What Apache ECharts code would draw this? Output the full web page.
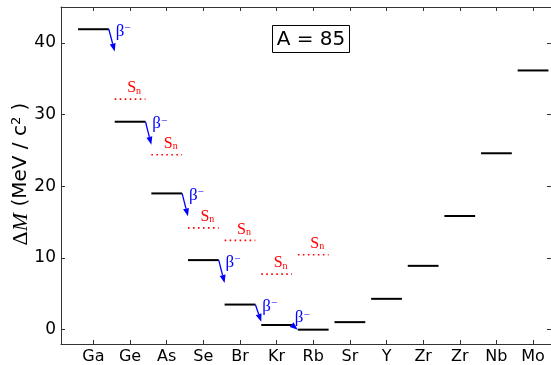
<!DOCTYPE html>
<html><head><meta charset="utf-8">
<script src="https://cdn.jsdelivr.net/npm/echarts@6/dist/echarts.min.js"></script>
<style>html,body{margin:0;padding:0;background:#fff}#c{width:551px;height:365px}</style>
</head><body><div id="c"></div>
<script>
// ---- data ----
const elements = ['Ga','Ge','As','Se','Br','Kr','Rb','Sr','Y','Zr','Zr','Nb','Mo'];
const massExcess = [41.9, 29.0, 19.0, 9.7, 3.5, 0.65, 0.0, 1.05, 4.3, 8.9, 15.85, 24.6, 36.15];
const snAt = ['Ge','As','Se','Br','Kr','Rb'];          // category where S_n level is drawn
const snValues = [32.15, 24.4, 14.2, 12.45, 7.75, 10.45];
const betaFrom = ['Ga','Ge','As','Se','Br','Kr'];       // decaying nucleus
const betaEnd = [38.8, 25.8, 15.8, 6.5, 1.1, 0.0];       // arrow tip values
const yTicks = [0, 10, 20, 30, 40];
const annotation = 'A = 85';

const HW = 0.42;
const catIdx = (name, k) => (k !== undefined ? k : elements.indexOf(name)) + 1;
const xVals = elements.map((_, i) => i + 1);

const chart = echarts.init(document.getElementById('c'), null, {renderer: 'canvas'});
const axisLine = {show: true, onZero: false, lineStyle: {color: '#333', width: 1}};
const serif = 'Liberation Serif';

const option = {
  animation: false,
  grid: {left: 61, right: -1, top: 7, bottom: 21, containLabel: false},
  xAxis: [{
    type: 'value', min: 0.114, max: 13.49, position: 'bottom',
    axisLine: axisLine, splitLine: {show: false},
    axisTick: {show: true, inside: true, length: 4, customValues: xVals, lineStyle: {color: '#333'}},
    axisLabel: {customValues: xVals, formatter: v => elements[Math.round(v) - 1] || '',
      fontFamily: 'DejaVu Sans', fontSize: 16, color: '#000', margin: 5}
  }, {
    type: 'value', min: 0.114, max: 13.49, position: 'top',
    axisLine: axisLine, splitLine: {show: false},
    axisTick: {show: true, inside: true, length: 4, customValues: xVals, lineStyle: {color: '#333'}},
    axisLabel: {show: false}
  }],
  yAxis: [{
    type: 'value', min: -2, max: 45, position: 'left',
    axisLine: axisLine, splitLine: {show: false},
    axisTick: {show: true, inside: true, length: 4, customValues: yTicks, lineStyle: {color: '#333'}},
    axisLabel: {customValues: yTicks, fontFamily: 'DejaVu Sans', fontSize: 17, color: '#000', margin: 5}
  }, {
    type: 'value', min: -2, max: 45, position: 'right',
    axisLine: axisLine, splitLine: {show: false},
    axisTick: {show: true, inside: true, length: 4, customValues: yTicks, lineStyle: {color: '#333'}},
    axisLabel: {show: false}
  }],
  graphic: [{
    type: 'text', x: 21, y: 174, rotation: Math.PI / 2, z: 10,
    style: {
      text: '{d|Δ}{m|M}{t| (MeV / c}{s|2}{t| )}',
      align: 'center', verticalAlign: 'middle',
      rich: {
        d: {fontFamily: 'Liberation Serif', fontSize: 22, fill: '#000'},
        m: {fontFamily: 'Liberation Serif', fontStyle: 'italic', fontSize: 22, fill: '#000'},
        t: {fontFamily: 'DejaVu Sans', fontSize: 20, fill: '#000'},
        s: {fontFamily: 'DejaVu Sans', fontSize: 13, fill: '#000', verticalAlign: 'top'}
      }
    }
  }],
  series: [
    {
      type: 'custom', name: 'levels', xAxisIndex: 0, yAxisIndex: 0, clip: false,
      data: elements.map((e, i) => [catIdx(e, i), massExcess[i]]),
      renderItem: (params, api) => {
        const x = api.value(0), y = api.value(1);
        const a = api.coord([x - HW, y]), b = api.coord([x + HW, y]);
        return {type: 'line', shape: {x1: a[0], y1: a[1], x2: b[0], y2: b[1]},
          style: {stroke: '#000', lineWidth: 2}};
      }
    },
    {
      type: 'custom', name: 'Sn', clip: false,
      data: snAt.map((e, i) => [catIdx(e), snValues[i]]),
      renderItem: (params, api) => {
        const x = api.value(0), y = api.value(1);
        const a = api.coord([x - HW, y]), b = api.coord([x + HW, y]), c = api.coord([x, y]);
        return {type: 'group', children: [
          {type: 'line', shape: {x1: a[0], y1: a[1], x2: b[0], y2: b[1]},
            style: {stroke: '#ff0000', lineWidth: 1.6, lineDash: [1.6, 3.4]}},
          {type: 'text', style: {x: c[0] + 4, y: c[1] - 3, text: '{s|S}{n|n}', align: 'center', verticalAlign: 'bottom',
            rich: {s: {fontFamily: serif, fontSize: 16, fill: '#ff0000'},
                   n: {fontFamily: serif, fontSize: 10, fill: '#ff0000', verticalAlign: 'bottom'}}}}
        ]};
      }
    },
    {
      type: 'custom', name: 'beta', clip: false,
      data: betaFrom.map((e, i) => [catIdx(e), massExcess[elements.indexOf(e)], betaEnd[i]]),
      renderItem: (params, api) => {
        const x = api.value(0), y0 = api.value(1), y1 = api.value(2);
        const s = api.coord([x + HW, y0]), t = api.coord([x + 1 - HW, y1]);
        const dx = t[0] - s[0], dy = t[1] - s[1], L = Math.hypot(dx, dy);
        const ux = dx / L, uy = dy / L, hl = 8, hw = 3;
        const bx = t[0] - ux * hl, by = t[1] - uy * hl;
        const labY = params.dataIndex === 5 ? s[1] - 9 : s[1];
        const labX = params.dataIndex === 5 ? t[0] - 3 : t[0] + 1;
        return {type: 'group', children: [
          {type: 'line', shape: {x1: s[0], y1: s[1], x2: bx, y2: by}, style: {stroke: '#0000ff', lineWidth: 1.3}},
          {type: 'polygon', shape: {points: [[t[0], t[1]], [bx - uy * hw, by + ux * hw], [bx + uy * hw, by - ux * hw]]},
            style: {fill: '#0000ff'}},
          {type: 'text', style: {x: labX, y: labY + 2, text: '{b|β}{m|−}', align: 'left', verticalAlign: 'middle',
            rich: {b: {fontFamily: serif, fontSize: 17, fill: '#0000ff'},
                   m: {fontFamily: serif, fontSize: 11, fill: '#0000ff', verticalAlign: 'top'}}}}
        ]};
      }
    },
    {
      type: 'custom', name: 'annot', clip: false,
      data: [[6.5, 40.5]],
      renderItem: (params, api) => {
        return {type: 'group', children: [
          {type: 'rect', shape: {x: 272.5, y: 25.5, width: 77, height: 27}, style: {fill: '#fff', stroke: '#000', lineWidth: 1}},
          {type: 'text', style: {x: 311, y: 39.5, text: annotation, align: 'center', verticalAlign: 'middle',
            fontFamily: 'DejaVu Sans', fontSize: 20, fill: '#000'}}
        ]};
      }
    }
  ]
};
chart.setOption(option);
</script>
</body></html>
